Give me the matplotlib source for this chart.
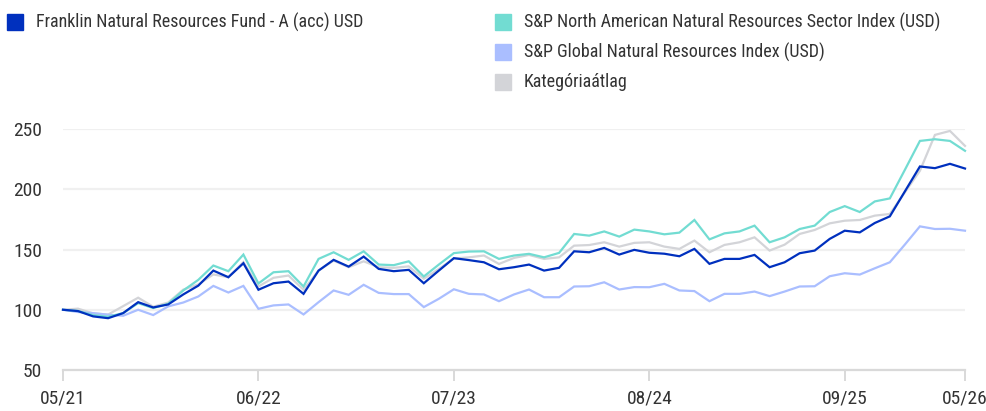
import matplotlib.pyplot as plt
from matplotlib.patches import Rectangle

# 字体
plt.rcParams['font.family'] = ['Roboto Condensed', 'Roboto', 'DejaVu Sans']

# 数据 (每月, 05/21 - 05/26)
tick_labels = ['05/21', '06/22', '07/23', '08/24', '09/25', '05/26']
tick_months = [0, 13, 26, 39, 52, 60]

fund = [100, 98.9, 94.5, 93, 97.2, 106.3, 101.9, 104.4, 112.7, 120, 132.5, 127, 138.6,
        116.6, 122, 123.4, 113.2, 132.5, 141.4, 135.8, 144.1, 133.9, 132, 133.1, 122, 132.5,
        142.8, 141.2, 139.4, 133.6, 135.3, 137.5, 132.5, 134.8, 148.5, 147.7, 151.3, 145.8, 149.7,
        147.3, 146.5, 144.4, 150.5, 138.1, 142.2, 142.2, 145.5, 135.3, 139.4, 146.9, 149.1, 158.8,
        165.6, 164.2, 172, 177.5, 198.2, 218.9, 217.5, 221.1, 217.2]
north_am = [100, 99, 95.5, 94.2, 97.2, 105.5, 101.4, 105, 116, 124.8, 136.7, 132, 145.8,
            121.8, 131.1, 132, 119.3, 142.2, 147.7, 141.4, 148.5, 137.5, 137, 140.2, 127.6, 137.5,
            147, 148.3, 148.5, 142.2, 145, 146.4, 143.5, 147.2, 162.9, 161.5, 165, 160.7, 166.5,
            165, 162.6, 164, 174.5, 158.4, 163.4, 165, 169.8, 156, 160.1, 167, 169.8, 181.1,
            186, 181.1, 189.9, 192.4, 216.1, 240.1, 241.5, 240.1, 231.9]
glob = [100, 98.1, 97.2, 95.9, 95, 100, 95.6, 102.8, 106, 111, 119.8, 114.3, 119.8,
        100.8, 103.6, 104.4, 96.1, 106.3, 116, 112.4, 120.7, 114, 113, 113, 102.2, 109.1,
        117, 113.2, 112.7, 107.1, 112.7, 116.8, 110.4, 110.4, 119.3, 119.5, 122.8, 116.8, 118.8,
        118.7, 121.5, 116, 115.5, 107.1, 113.2, 113.2, 115.1, 111.3, 115.1, 119.3, 119.5, 127.8,
        130.3, 129.2, 134.4, 139.4, 154.1, 169.2, 167, 167.2, 165.6]
category = [100, 100.9, 97, 96, 103, 110, 102.5, 106, 116.7, 121, 129.3, 127, 139.5,
            119.3, 126.5, 128.4, 116.6, 132.5, 140.8, 135.3, 140.2, 135.3, 134.8, 136, 125.7, 133.9,
            142.5, 143.5, 145, 138, 143, 145.5, 142.2, 143.5, 153.2, 153.7, 156, 152.4, 155.5,
            156, 152.4, 150.5, 157.4, 147.7, 153.8, 156, 160.1, 149.1, 154, 162.9, 166.2, 171.7,
            173.9, 174.5, 178.1, 179.5, 197.4, 215.3, 245.1, 248.4, 236]

names = ['Franklin Natural Resources Fund - A (acc) USD',
         'S&P North American Natural Resources Sector Index (USD)',
         'S&P Global Natural Resources Index (USD)',
         'Kategóriaátlag']
colors = ['#0030be', '#72dcd2', '#aabeff', '#d3d4d8']

months = list(range(len(fund)))

fig = plt.figure(figsize=(9.87, 4.11), dpi=100)
ax = fig.add_axes([63 / 987, 1 - 370 / 411, 902 / 987, 241 / 411])

# 画线 (基金在最上层)
for vals, c in zip([category, glob, north_am, fund], colors[::-1]):
    ax.plot(months, vals, color=c, lw=1.6, clip_on=False, solid_joinstyle='miter')

ax.set_xlim(0, 60)
ax.set_ylim(50, 250)
ax.set_yticks([50, 100, 150, 200, 250])
ax.set_xticks(tick_months)
ax.set_xticklabels(tick_labels)

ax.grid(axis='y', color='#f0f0f0', lw=1.6)
ax.set_axisbelow(True)
for s in ['left', 'right', 'top']:
    ax.spines[s].set_visible(False)
ax.spines['bottom'].set_color('#d9d9d9')
ax.spines['bottom'].set_linewidth(1.6)
ax.tick_params(axis='x', direction='out', length=8, width=1.4, color='#d9d9d9',
               labelsize=14, labelcolor='#333333', pad=6)
ax.tick_params(axis='y', length=0, labelsize=14, labelcolor='#333333', pad=15)

# 图例
rows = [(7, 22, 0), (495, 22, 1), (495, 52, 2), (495, 82, 3)]
for x, y, i in rows:
    fig.patches.append(Rectangle((x / 987, 1 - (y + 8) / 411), 16 / 987, 16 / 411,
                                 transform=fig.transFigure, color=colors[i]))
    fig.text((x + 29) / 987, 1 - y / 411, names[i], fontsize=13, color='#333333',
             va='center', ha='left')

fig.savefig('out.png', dpi=100)
